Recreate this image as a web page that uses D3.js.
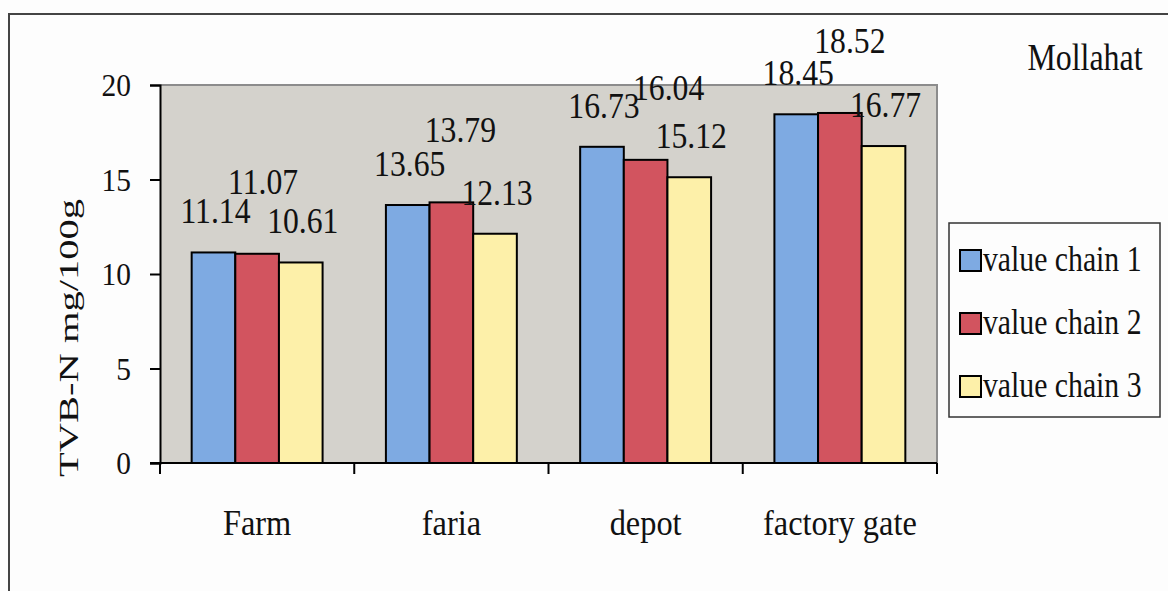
<!DOCTYPE html>
<html>
<head>
<meta charset="utf-8">
<script src="https://cdn.jsdelivr.net/npm/d3@7/dist/d3.min.js"></script>
<style>
  html, body { margin: 0; padding: 0; background: #fdfdfd; }
  svg { display: block; }
  text { font-family: "Liberation Serif", "Times New Roman", serif; fill: #111; }
</style>
</head>
<body>
<svg id="chart" width="1168" height="591"></svg>
<script>
// TVB-N content along the shrimp value chain, Mollahat
const categories = ["Farm", "faria", "depot", "factory gate"];
const seriesNames = ["value chain 1", "value chain 2", "value chain 3"];
const chain1 = [11.14, 13.65, 16.73, 18.45];
const chain2 = [11.07, 13.79, 16.04, 18.52];
const chain3 = [10.61, 12.13, 15.12, 16.77];
const yTicks = [0, 5, 10, 15, 20];
const yTitle = "TVB-N mg/100g";
const siteName = "Mollahat";

const seriesValues = [chain1, chain2, chain3];
const colors = ["#7eaae2", "#d2545f", "#fdf0a9"];

// layout
const plot = { left: 160, right: 937, top: 85, bottom: 463 };
const textScaleX = 0.87;
// the middle series labels sit higher and a little to the right so they clear their neighbours
const labelLift = [29, 60, 29];
const middleLabelShift = [6, 9, 23, 10];

const svg = d3.select("#chart");

// outer frame (open to the right and bottom)
svg.append("path")
  .attr("d", "M9,600 L9,14 L1175,14")
  .attr("fill", "none").attr("stroke", "#444").attr("stroke-width", 2);

const x0 = d3.scaleBand().domain(categories).range([plot.left, plot.right]).padding(0);
const bw = x0.bandwidth();
const groupGap = bw * 0.163;
const x1 = d3.scaleBand().domain(d3.range(seriesNames.length)).range([groupGap, bw - groupGap]).padding(0);
const y = d3.scaleLinear().domain([0, 20]).range([plot.bottom, plot.top]);

// plot background
svg.append("rect")
  .attr("x", plot.left).attr("y", plot.top)
  .attr("width", plot.right - plot.left).attr("height", plot.bottom - plot.top)
  .attr("fill", "#d4d2cc");
svg.append("path")
  .attr("d", `M${plot.left},${plot.top} L${plot.right},${plot.top} L${plot.right},${plot.bottom}`)
  .attr("fill", "none").attr("stroke", "#8c8c8c").attr("stroke-width", 2);

// text helper: serif text squeezed horizontally around its anchor
function label(g, txt, x, yy, size, anchor, sx) {
  return g.append("text")
    .attr("transform", `translate(${x},${yy}) scale(${sx || textScaleX},1)`)
    .attr("text-anchor", anchor || "middle")
    .attr("font-size", size)
    .text(txt);
}

// bars
const rows = categories.map((c, i) => ({ c, i, vals: seriesValues.map(s => s[i]) }));
const groups = svg.append("g").selectAll("g").data(rows).join("g")
  .attr("transform", d => `translate(${x0(d.c)},0)`);
groups.selectAll("rect").data(d => d.vals.map((v, k) => ({ v, k })))
  .join("rect")
  .attr("x", d => x1(d.k))
  .attr("y", d => y(d.v))
  .attr("width", x1.bandwidth())
  .attr("height", d => y(0) - y(d.v))
  .attr("fill", d => colors[d.k])
  .attr("stroke", "#000").attr("stroke-width", 2);

// y axis
const yAxis = svg.append("g")
  .attr("transform", `translate(${plot.left},0)`)
  .call(d3.axisLeft(y).tickValues(yTicks).tickSize(10).tickPadding(19).tickFormat(d3.format("d")));
yAxis.select(".domain").attr("stroke", "#000").attr("stroke-width", 2);
yAxis.selectAll(".tick line").attr("stroke", "#000").attr("stroke-width", 2);
yAxis.selectAll(".tick text")
  .attr("font-family", "Liberation Serif").attr("font-size", 32).attr("fill", "#111")
  .attr("dy", "0.34em")
  .attr("transform", function () {
    const xx = +d3.select(this).attr("x");
    return `translate(${xx * (1 - 0.92)},0) scale(0.92,1)`;
  });

// x axis: baseline with ticks between categories
const xAxisG = svg.append("g");
xAxisG.append("line")
  .attr("x1", plot.left - 10).attr("x2", plot.right)
  .attr("y1", plot.bottom).attr("y2", plot.bottom)
  .attr("stroke", "#000").attr("stroke-width", 2);
const edges = categories.map(c => x0(c)).concat([x0.range()[1]]);
xAxisG.selectAll("line.tk").data(edges).join("line").attr("class", "tk")
  .attr("x1", d => d).attr("x2", d => d)
  .attr("y1", plot.bottom).attr("y2", plot.bottom + 11)
  .attr("stroke", "#000").attr("stroke-width", 2);
categories.forEach(c => label(xAxisG, c, x0(c) + bw / 2, 535, 36, "middle", 0.9));

// value labels
const lbl = svg.append("g");
rows.forEach(r => {
  r.vals.forEach((v, k) => {
    const cx = x0(r.c) + x1(k) + x1.bandwidth() / 2 + (k === 1 ? middleLabelShift[r.i] : 2);
    label(lbl, d3.format(".2f")(v), cx, y(v) - labelLift[k], 36, "middle", 0.88);
  });
});

// y axis title
svg.append("text")
  .attr("transform", `translate(78,338) rotate(-90) scale(1.5,1)`)
  .attr("text-anchor", "middle")
  .attr("font-size", 27)
  .text(yTitle);

// site name
label(svg, siteName, 1085, 70, 38, "middle", 0.84);

// legend
const leg = svg.append("g");
leg.append("rect")
  .attr("x", 949).attr("y", 223).attr("width", 211).attr("height", 194)
  .attr("fill", "#fdfdfd").attr("stroke", "#333").attr("stroke-width", 1.5);
seriesNames.forEach((s, k) => {
  const yy = 250 + k * 63;
  leg.append("rect")
    .attr("x", 960).attr("y", yy).attr("width", 21).attr("height", 21)
    .attr("fill", colors[k]).attr("stroke", "#000").attr("stroke-width", 2);
  label(leg, s, 983, yy + 21, 35, "start", 0.85);
});
</script>
</body>
</html>
